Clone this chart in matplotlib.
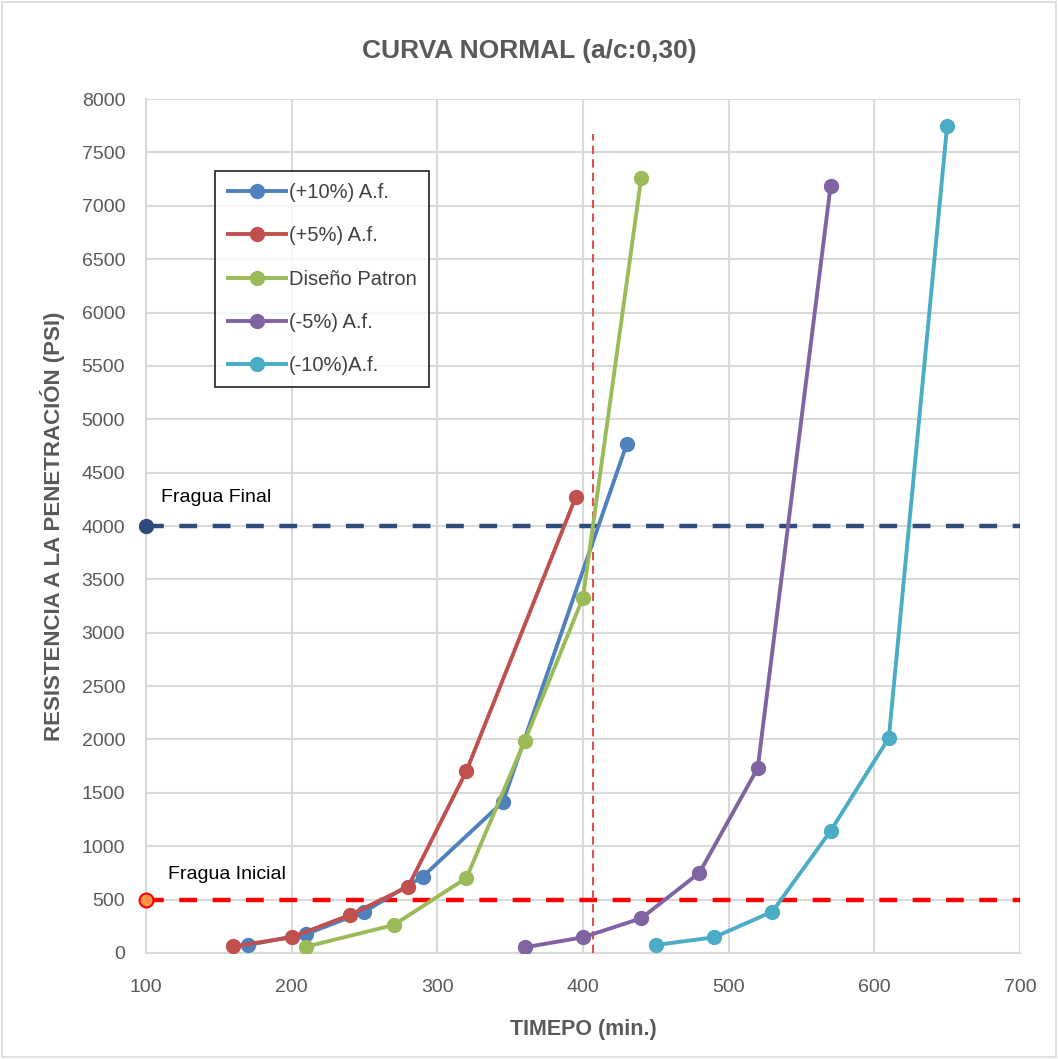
import matplotlib
matplotlib.use("Agg")
import matplotlib.pyplot as plt
from matplotlib.patches import Rectangle

plt.rcParams['font.family'] = ['Liberation Sans', 'DejaVu Sans']

# ---- data ----
series_names = ["(+10%) A.f.", "(+5%) A.f.", "Diseño Patron", "(-5%) A.f.", "(-10%)A.f."]
x_p10 = [170, 210, 250, 290, 345, 430]
y_p10 = [75, 178, 387, 715, 1415, 4765]
x_p5 = [160, 200, 240, 280, 320, 395]
y_p5 = [62, 147, 356, 621, 1705, 4270]
x_pat = [210, 270, 320, 360, 400, 440]
y_pat = [59, 262, 703, 1986, 3328, 7260]
x_m5 = [360, 400, 440, 480, 520, 570]
y_m5 = [53, 147, 325, 752, 1733, 7185]
x_m10 = [450, 490, 530, 570, 610, 650]
y_m10 = [75, 147, 387, 1143, 2014, 7747]

fragua_final = 4000
fragua_inicial = 500
vline_x = 407
vline_top = 7670

colors = ["#4F81BD", "#C0504D", "#9BBB59", "#8064A2", "#4BACC6"]
gray = "#595959"

fig = plt.figure(figsize=(10.58, 10.59), dpi=100)
fig.patches.append(Rectangle((0.002, 0.002), 0.996, 0.996, transform=fig.transFigure,
                             fill=False, edgecolor="#D9D9D9", linewidth=1.2))
ax = fig.add_axes([0.138, 0.1001, 0.826, 0.8064])

ax.set_xlim(100, 700)
ax.set_ylim(0, 8000)
ax.set_xticks(range(100, 701, 100))
ax.set_yticks(range(0, 8001, 500))
ax.grid(True, color="#D9D9D9", linewidth=1.5)
ax.set_axisbelow(True)
for s in ["top", "right"]:
    ax.spines[s].set_visible(False)
for s in ["left", "bottom"]:
    ax.spines[s].set_color("#D9D9D9")
    ax.spines[s].set_linewidth(1.5)
ax.tick_params(axis="both", length=0, labelsize=14, labelcolor=gray)
ax.tick_params(axis="y", pad=15)
ax.tick_params(axis="x", pad=19)

# reference lines
ax.plot([100, 700], [fragua_final] * 2, color="#2F4B7C", linewidth=3.2,
        dashes=(4, 3.5), zorder=3)
ax.plot([100], [fragua_final], marker="o", markersize=10, color="#2F4B7C",
        clip_on=False, zorder=5)
ax.plot([100, 700], [fragua_inicial] * 2, color="#FF0000", linewidth=3.2,
        dashes=(4, 3.5), zorder=3)
ax.plot([100], [fragua_inicial], marker="o", markersize=10, markerfacecolor="#F79646",
        markeredgecolor="#FF0000", markeredgewidth=1.5, clip_on=False, zorder=5)
ax.plot([vline_x, vline_x], [0, vline_top], color="#D9534F", linewidth=1.5,
        dashes=(4, 2.5), zorder=3)

ax.text(110, 4270, "Fragua Final", fontsize=14, color="black", va="center")
ax.text(115, 735, "Fragua Inicial", fontsize=14, color="black", va="center")

xs = [x_p10, x_p5, x_pat, x_m5, x_m10]
ys = [y_p10, y_p5, y_pat, y_m5, y_m10]
for name, xv, yv, c in zip(series_names, xs, ys, colors):
    ax.plot(xv, yv, color=c, linewidth=2.8, marker="o", markersize=10,
            label=name, zorder=4)

leg = ax.legend(loc="upper left", bbox_to_anchor=(0.079, 0.916), borderaxespad=0,
                frameon=True, fancybox=False, edgecolor="black", labelspacing=1.2,
                handlelength=2.9, borderpad=0.62, handletextpad=0.15,
                prop={"size": 14.5})
leg.get_frame().set_linewidth(1.3)
for t in leg.get_texts():
    t.set_color("#404040")

fig.text(0.5, 0.952, "CURVA NORMAL (a/c:0,30)", ha="center", va="center",
         fontsize=19, fontweight="bold", color=gray)
ax.set_xlabel("TIMEPO (min.)", fontsize=15.5, fontweight="bold", color=gray, labelpad=16)
ax.set_ylabel("RESISTENCIA A LA PENETRACIÓN (PSI)", fontsize=16, fontweight="bold",
              color=gray, labelpad=12)

fig.savefig("out.png", dpi=100)
